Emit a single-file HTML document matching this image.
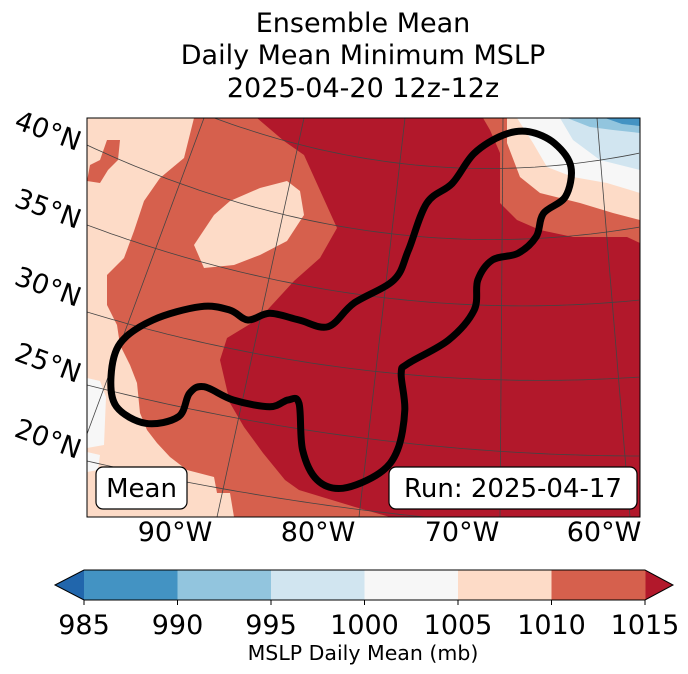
<!DOCTYPE html>
<html><head><meta charset="utf-8"><style>
body{margin:0;background:#fff;}
svg{display:block;font-family:"DejaVu Sans","Liberation Sans",sans-serif;}
</style></head><body>
<svg id="s" width="688" height="674" viewBox="0 0 688 674">
<defs><clipPath id="mc"><rect x="87" y="118" width="553" height="399"/></clipPath></defs>
<g font-size="27" text-anchor="middle" fill="#000">
<text x="363" y="32">Ensemble Mean</text>
<text x="363" y="64">Daily Mean Minimum MSLP</text>
<text x="363" y="97">2025-04-20 12z-12z</text>
</g>
<g clip-path="url(#mc)">
<rect x="87" y="118" width="553" height="399" fill="#d6604d"/>
<polygon fill="#fddbc7" points="87,118 194,118 184,158 160,178 144,201 134,231 124,258 107,275 107,305 117,325 120,345 130,365 137,383 140,413 147,430 157,443 170,457 187,470 214,477 217,493 230,493 234,517 87,517"/>
<polygon fill="#f7f7f7" points="87,378 100,381 106,397 104,445 87,448"/>
<polygon fill="#f7f7f7" points="87,452 100,455 98,470 87,472"/>
<polygon fill="#d6604d" points="107,140 120,140 118,160 108,170 100,183 87,181 90,165 100,160"/>
<polygon fill="#fddbc7" points="194,245 214,215 230,201 260,188 287,181 300,191 304,215 287,241 260,255 234,265 204,268"/>
<polygon fill="#b2182b" points="257,118 483,118 490,130 500,153 500,203 517,220 540,230 573,237 627,237 640,243 640,517 390,517 355,507 299,490 285,480 263,453 244,427 230,403 220,360 227,338 260,318 294,281 320,258 337,228 304,155 284,141"/>
<polygon fill="#fddbc7" points="507,118 640,118 640,220 613,213 580,203 540,193 520,177 507,143"/>
<polygon fill="#f7f7f7" points="517,118 640,118 640,193 607,183 573,177 547,167 533,143"/>
<polygon fill="#d1e5f0" points="560,118 640,118 640,170 600,160 573,140"/>
<polygon fill="#92c5de" points="567,118 640,118 640,133 613,130 590,127"/>
<polygon fill="#4393c3" points="605,118 640,118 640,126 622,124"/>
<g id="grid" fill="none" stroke="#444" stroke-width="0.8"></g>
<path id="ctr" fill="none" stroke="#000" stroke-width="7" stroke-linejoin="round"/>
</g>
<rect x="87" y="118" width="553" height="399" fill="none" stroke="#000" stroke-width="1"/>
<g>
<rect x="96" y="467" width="91" height="42" rx="7" fill="#fff" stroke="#000" stroke-width="1.2"/>
<text x="141.5" y="497" font-size="26" text-anchor="middle">Mean</text></g>
<g>
<rect x="389" y="467" width="248" height="42" rx="7" fill="#fff" stroke="#000" stroke-width="1.2"/>
<text x="513" y="497" font-size="26" text-anchor="middle">Run: 2025-04-17</text></g>
<g id="latl" font-size="27"></g>
<g id="lonl" font-size="27" text-anchor="middle"></g>
<g id="cb"></g>
<text x="363" y="660" font-size="20.5" text-anchor="middle">MSLP Daily Mean (mb)</text>
</svg>
<script>
const cbTicks=[985,990,995,1000,1005,1010,1015];
const cbColors=["#4393c3","#92c5de","#d1e5f0","#f7f7f7","#fddbc7","#d6604d"];
const latLabels=["40°N","35°N","30°N","25°N","20°N"];
const lonLabels=["90°W","80°W","70°W","60°W"];
const NS="http://www.w3.org/2000/svg";
function mk(t,a,p){const e=document.createElementNS(NS,t);for(const k in a)e.setAttribute(k,a[k]);p.appendChild(e);return e;}
const cb=document.getElementById('cb');
const x0=84,x1=645,y0=570,y1=600;
const sx=v=>x0+(v-cbTicks[0])/(cbTicks[cbTicks.length-1]-cbTicks[0])*(x1-x0);
const lt=mk('polygon',{points:`${x0},${y0} ${x0},${y1} 55,585`,fill:"#2166ac"},cb);


const rt=mk('polygon',{points:`${x1},${y0} ${x1},${y1} 673,585`,fill:"#b2182b"},cb);


for(let i=0;i<cbColors.length;i++){
 const r=mk('rect',{x:sx(cbTicks[i]),y:y0,width:sx(cbTicks[i+1])-sx(cbTicks[i])+0.5,height:y1-y0,fill:cbColors[i]},cb);
 
 
}
mk('polygon',{points:`55,585 ${x0},${y0} ${x1},${y0} 673,585 ${x1},${y1} ${x0},${y1}`,fill:"none",stroke:"#000","stroke-width":1},cb);
cbTicks.forEach(v=>{
 mk('line',{x1:sx(v),x2:sx(v),y1:y1,y2:y1+5,stroke:"#000"},cb);
 const t=mk('text',{x:sx(v),y:634,"font-size":27,"text-anchor":"middle"},cb);t.textContent=v;
 
 
});
const g=document.getElementById('grid');
[[60,158,153],[145,230,227],[225,295,300],[312,370,377],[385,438,456],[461,510,530]].forEach(a=>{
 const X=[87,363,640];let d='';
 for(let x=87;x<=640;x+=8){
  let y=0;for(let i=0;i<3;i++){let L=1;for(let j=0;j<3;j++)if(j!==i)L*=(x-X[j])/(X[i]-X[j]);y+=a[i]*L;}
  d+=(d?' L':'M')+x+','+y.toFixed(1);
 }
 const p=mk('path',{d:d},g);
 
 
});
[[204,118,87,434],[304,118,217,517],[405,118,359,517],[503,118,500,517],[597,118,630,517]].forEach(a=>{
 const p=mk('path',{d:`M${a[0]},${a[1]} L${a[2]},${a[3]}`},g);
 
 
});
const cz=[[1230,65],[1300,100],[1345,170],[1330,260],[1270,310],[1250,380],[1200,430],[1130,450],[1090,510],[1080,600],[1010,690],[900,760],[880,790],[890,900],[870,1020],[820,1090],[720,1135],[650,1110],[610,1020],[600,880],[570,870],[520,890],[420,870],[340,830],[300,850],[270,920],[180,940],[100,890],[85,800],[110,700],[200,630],[330,590],[410,600],[460,630],[520,610],[600,630],[680,650],[750,580],[860,510],[900,420],[950,280],[1020,220],[1080,130],[1160,75]];
const P=cz.map(p=>[80+p[0]/2.74,110+p[1]/3]);
let d='M'+P[0][0].toFixed(1)+','+P[0][1].toFixed(1);
const n=P.length;
for(let i=0;i<n;i++){
 const p0=P[(i-1+n)%n],p1=P[i],p2=P[(i+1)%n],p3=P[(i+2)%n];
 const c1=[p1[0]+(p2[0]-p0[0])/6,p1[1]+(p2[1]-p0[1])/6];
 const c2=[p2[0]-(p3[0]-p1[0])/6,p2[1]-(p3[1]-p1[1])/6];
 d+=` C${c1[0].toFixed(1)},${c1[1].toFixed(1)} ${c2[0].toFixed(1)},${c2[1].toFixed(1)} ${p2[0].toFixed(1)},${p2[1].toFixed(1)}`;
}
document.getElementById('ctr').setAttribute('d',d+' Z');
const ll=document.getElementById('latl');
[140,218,296,372,448].forEach((y,i)=>{
 const t=mk('text',{x:48,y:y,"text-anchor":"middle",transform:`rotate(20 48 ${y-9})`},ll);t.textContent=latLabels[i];
 
 
});
const lo=document.getElementById('lonl');
[175,318,462,604].forEach((x,i)=>{
 const t=mk('text',{x:x,y:541},lo);t.textContent=lonLabels[i];
 
 
});
</script>
</body></html>
